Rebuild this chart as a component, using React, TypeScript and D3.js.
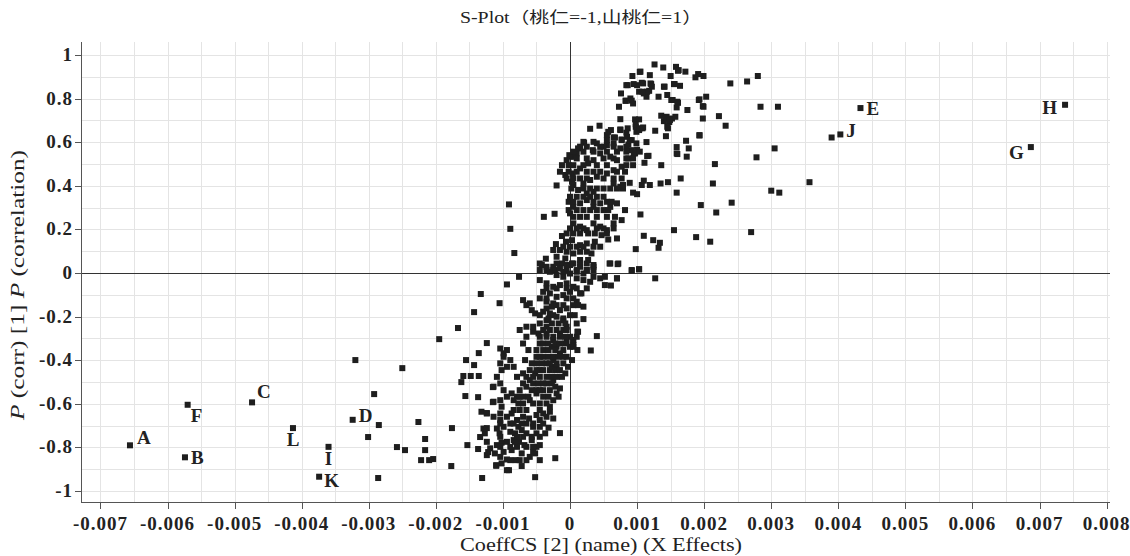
import * as d3 from "d3";

type Pt = [number, number];

// [CoeffCS[2], p(corr)[1]]
const upperArm: Pt[] = [
  [0.00126, 0.957], [0.00139, 0.943], [0.00158, 0.946], [0.00162, 0.931], [0.00172, 0.924],
  [0.00105, 0.924], [0.00093, 0.904], [0.00119, 0.908], [0.00191, 0.913], [0.00199, 0.904],
  [0.00187, 0.898], [0.00239, 0.87], [0.00264, 0.879], [0.0028, 0.904], [0.00086, 0.862],
  [0.00095, 0.867], [0.00109, 0.87], [0.00121, 0.867], [0.0014, 0.855], [0.00155, 0.867],
  [0.00164, 0.859], [0.00076, 0.824], [0.00103, 0.832], [0.0011, 0.824], [0.00118, 0.836],
  [0.00114, 0.809], [0.00145, 0.817], [0.00153, 0.794], [0.00161, 0.781], [0.00192, 0.794],
  [0.00203, 0.809], [0.00284, 0.763], [0.0031, 0.763], [0.00073, 0.763], [0.00083, 0.791],
  [0.00092, 0.791], [0.00094, 0.778], [0.00159, 0.76], [0.00175, 0.748], [0.00199, 0.763],
  [0.00198, 0.709], [0.00222, 0.72], [0.00232, 0.676], [0.00075, 0.706], [0.00097, 0.705],
  [0.00103, 0.705], [0.00136, 0.722], [0.00144, 0.717], [0.00152, 0.709], [0.00157, 0.717],
  [0.00148, 0.693], [0.00146, 0.664], [0.00143, 0.628], [0.00127, 0.653], [0.00108, 0.664],
  [0.00103, 0.656], [0.00099, 0.648], [0.00098, 0.671], [0.00086, 0.664], [0.00075, 0.659],
  [0.00061, 0.656], [0.00044, 0.676], [0.0003, 0.662], [0.00055, 0.633], [0.00065, 0.622],
  [0.00077, 0.61], [0.00085, 0.625], [0.00092, 0.61], [0.00099, 0.595], [0.00087, 0.59],
  [0.00095, 0.549], [0.001, 0.565], [0.00114, 0.601], [0.00117, 0.538], [0.00075, 0.572],
  [0.00055, 0.587], [0.0005, 0.58], [0.0004, 0.595], [0.00035, 0.602], [0.00021, 0.598],
  [0.0001, 0.549], [0.00001, 0.534], [0.00193, 0.631], [0.00173, 0.607], [0.00177, 0.572],
  [0.00174, 0.534], [0.00159, 0.578], [0.00159, 0.549], [0.00278, 0.531], [0.00305, 0.572],
  [0.00161, 0.928], [0.00104, 0.923], [0.0012, 0.87], [0.00107, 0.873], [0.001, 0.862],
  [0.00084, 0.862], [0.00122, 0.855], [0.00115, 0.832], [0.00108, 0.832], [0.00132, 0.809],
  [0.0009, 0.801], [0.00083, 0.79], [0.00141, 0.855], [0.0015, 0.904], [0.00156, 0.867],
  [0.00151, 0.794], [0.0016, 0.786], [0.00193, 0.797], [0.00198, 0.766], [0.00098, 0.683],
  [0.00104, 0.664], [0.00109, 0.668], [0.00143, 0.71], [0.00149, 0.702], [0.00145, 0.671],
  [0.0014, 0.697], [0.00193, 0.633], [0.0016, 0.546], [0.00057, 0.648], [0.00067, 0.622],
  [0.00075, 0.656], [0.00084, 0.644], [0.00089, 0.61], [0.00077, 0.613], [0.00065, 0.595],
  [0.00055, 0.61], [0.00045, 0.579], [0.00034, 0.564], [0.0002, 0.602], [0.00012, 0.572],
  [0.00005, 0.534], [-0.00001, 0.541], [0.00115, 0.537], [0.00092, 0.564], [0.00097, 0.549],
  [0.00087, 0.526], [0.0039, 0.622],
  [0.00015, 0.58], [0.00025, 0.58], [0.00065, 0.58], [0.00084, 0.58],
  [0.00005, 0.557], [0.0002, 0.557], [0.00035, 0.557], [0.00055, 0.557], [0.0007, 0.557], [0.00084, 0.557], [0.00104, 0.557],
  [0.0001, 0.526], [0.00025, 0.526], [0.0005, 0.526], [0.00065, 0.526], [0.00084, 0.526], [0.00094, 0.526],
];

const middleBand: Pt[] = [
  [-0.00005, 0.518], [-0.00012, 0.495], [-0.00015, 0.465], [-0.00007, 0.45], [0.00004, 0.457],
  [0.00015, 0.48], [0.00027, 0.503], [0.00035, 0.518], [0.00045, 0.549], [0.0006, 0.534],
  [0.0007, 0.518], [0.00077, 0.488], [0.00065, 0.472], [0.00055, 0.457], [0.0004, 0.442],
  [0.0003, 0.427], [0.0002, 0.411], [0.00005, 0.404], [0.00003, 0.419], [-0.0002, 0.402],
  [0.00012, 0.381], [0.00025, 0.365], [0.00035, 0.373], [0.0005, 0.388], [0.00065, 0.411],
  [0.00075, 0.396], [0.00079, 0.404], [0.00089, 0.414], [0.00094, 0.369], [0.001, 0.362],
  [0.00107, 0.404], [0.0011, 0.424], [0.00119, 0.404], [0.00135, 0.411], [0.00146, 0.417],
  [0.00159, 0.369], [0.00165, 0.434], [0.00136, 0.495], [0.00111, 0.506], [0.00216, 0.5],
  [0.00213, 0.411], [0.00195, 0.312], [0.00218, 0.278], [0.00241, 0.323], [0.003, 0.378],
  [0.00312, 0.369], [0.0027, 0.188], [0.00209, 0.144], [0.00188, 0.165], [0.00155, 0.197],
  [0.00134, 0.139], [0.00124, 0.151], [0.0011, 0.171], [0.00098, 0.11], [0.00132, 0.116],
  [0.00105, 0.269], [0.00082, 0.289], [0.0007, 0.32], [0.0006, 0.304], [0.00045, 0.32],
  [0.00035, 0.304], [0.00025, 0.335], [0.00015, 0.32], [0.00005, 0.304], [0.0, 0.274],
  [0.00005, 0.228], [0.00015, 0.213], [0.00025, 0.197], [0.00035, 0.228], [0.00045, 0.213],
  [0.00055, 0.197], [0.00065, 0.228], [0.00077, 0.243], [0.0007, 0.159], [0.00057, 0.154],
  [0.00047, 0.174], [0.00037, 0.144], [0.00025, 0.136], [0.00015, 0.128], [0.00003, 0.151],
  [-0.00006, 0.144], [-0.00012, 0.17], [-0.00021, 0.133], [-0.00015, 0.106], [-0.00025, 0.106],
  [-0.0002, 0.075], [-0.00007, 0.067], [0.00005, 0.09], [0.00015, 0.06], [0.00027, 0.06],
  [0.00032, 0.09], [0.00035, 0.029], [0.0002, -0.002], [0.0001, 0.014], [0.0, 0.037],
  [-0.00012, 0.044], [-0.00025, 0.029], [-0.00035, 0.014], [-0.00042, 0.037], [-0.00036, 0.066],
  [-0.00091, 0.315], [-0.00089, 0.203], [-0.00083, 0.092], [-0.00076, -0.017], [-0.00039, 0.258],
  [-0.00023, 0.272], [0.00059, 0.044], [0.00071, 0.041], [0.00092, 0.011], [0.00103, 0.017],
  [0.00127, -0.024], [0.0007, -0.024], [0.00357, 0.417],
  [-0.00002, 0.495], [0.00005, 0.495], [0.0002, 0.495], [0.0004, 0.495], [0.00055, 0.495], [0.00084, 0.495], [0.00094, 0.495],
  [-0.00002, 0.465], [0.0001, 0.465], [0.00025, 0.465], [0.00035, 0.465], [0.00045, 0.465], [0.0007, 0.465], [0.00082, 0.465],
  [-0.00005, 0.434], [0.00005, 0.434], [0.00015, 0.434], [0.00025, 0.434], [0.0005, 0.434], [0.00065, 0.434], [0.00077, 0.434],
  [0.00002, 0.388], [0.0002, 0.388], [0.0003, 0.388], [0.0004, 0.388], [0.0006, 0.388], [0.0007, 0.388], [0.00079, 0.388],
  [0.0, 0.35], [0.0001, 0.35], [0.0002, 0.35], [0.0003, 0.35], [0.0004, 0.35], [0.0005, 0.35],
  [-0.00002, 0.327], [0.00005, 0.327], [0.00035, 0.327], [0.00055, 0.327], [0.00062, 0.327],
  [-0.00002, 0.289], [0.0001, 0.289], [0.0002, 0.289], [0.0003, 0.289], [0.0004, 0.289], [0.0005, 0.289], [0.00057, 0.289],
  [0.00005, 0.258], [0.00015, 0.258], [0.00025, 0.258], [0.0004, 0.258], [0.00055, 0.258], [0.00067, 0.258],
  [0.0, 0.205], [0.0001, 0.205], [0.0002, 0.205], [0.0004, 0.205], [0.0005, 0.205], [0.00065, 0.205],
  [-0.00005, 0.182], [0.00005, 0.182], [0.00015, 0.182], [0.00027, 0.182], [0.00037, 0.182], [0.00055, 0.182],
  [-0.0001, 0.121], [0.0, 0.121], [0.0001, 0.121], [0.0002, 0.121], [0.00035, 0.121], [0.00045, 0.121],
  [-0.00005, 0.098], [0.00015, 0.098], [0.00025, 0.098],
  [-0.0002, 0.044], [0.00003, 0.044], [0.00015, 0.044], [0.00025, 0.044],
  [-0.00045, 0.014], [-0.00022, 0.014], [-0.00005, 0.014], [0.00025, 0.014], [0.00035, 0.014],
];

const lowerArm: Pt[] = [
  [-0.0011, -0.884], [-0.00102, -0.873], [-0.00094, -0.855], [-0.00091, -0.904], [-0.00081, -0.858],
  [-0.00072, -0.885], [-0.0006, -0.843], [-0.00052, -0.827], [-0.0005, -0.797], [-0.00057, -0.766],
  [-0.00068, -0.789], [-0.00076, -0.774], [-0.00084, -0.766], [-0.00094, -0.774], [-0.00102, -0.778],
  [-0.00109, -0.789], [-0.00105, -0.735], [-0.00109, -0.713], [-0.00099, -0.705], [-0.00089, -0.69],
  [-0.00077, -0.705], [-0.00065, -0.69], [-0.00055, -0.705], [-0.00045, -0.674], [-0.00037, -0.735],
  [-0.00032, -0.709], [-0.00025, -0.667], [-0.0003, -0.636], [-0.0004, -0.644], [-0.0005, -0.651],
  [-0.00061, -0.667], [-0.0007, -0.659], [-0.00079, -0.674], [-0.00087, -0.644], [-0.00094, -0.659],
  [-0.00104, -0.644], [-0.00102, -0.613], [-0.00114, -0.59], [-0.00104, -0.583], [-0.00094, -0.567],
  [-0.00084, -0.583], [-0.00077, -0.598], [-0.0007, -0.567], [-0.0006, -0.583], [-0.0005, -0.552],
  [-0.0004, -0.537], [-0.00035, -0.506], [-0.00025, -0.491], [-0.0002, -0.476], [-0.0003, -0.445],
  [-0.00035, -0.414], [-0.00025, -0.399], [-0.00015, -0.368], [-0.0002, -0.338], [-0.00025, -0.307],
  [-0.00015, -0.277], [-0.00005, -0.246], [-0.0001, -0.216], [-0.0002, -0.2], [-0.00035, -0.216],
  [-0.00045, -0.231], [-0.00055, -0.246], [-0.00065, -0.292], [-0.0007, -0.323], [-0.00062, -0.353],
  [-0.00067, -0.399], [-0.00057, -0.414], [-0.00052, -0.46], [-0.0006, -0.491], [-0.00065, -0.521],
  [-0.00075, -0.537], [-0.00079, -0.567], [-0.00087, -0.552], [-0.00099, -0.537], [-0.00104, -0.506],
  [-0.00114, -0.521], [-0.00109, -0.476], [-0.00102, -0.445], [-0.00094, -0.43], [-0.00104, -0.414],
  [-0.00099, -0.368], [-0.00089, -0.399], [-0.00094, -0.353], [-0.00104, -0.346], [-0.00099, -0.384],
  [-0.00084, -0.43], [-0.00079, -0.476], [-0.0007, -0.46], [-0.00045, -0.445], [-0.0004, -0.384],
  [-0.00045, -0.323], [-0.00047, -0.277], [-0.00035, -0.277], [-0.00027, -0.338], [-0.0004, -0.353],
  [-0.00032, -0.384], [-0.00027, -0.43], [-0.00022, -0.521], [-0.0002, -0.552], [-0.00025, -0.583],
  [-0.0003, -0.613], [-0.00035, -0.659], [-0.00045, -0.705], [-0.0005, -0.735], [-0.00057, -0.751],
  [-0.00065, -0.735], [-0.00072, -0.72], [-0.00082, -0.735], [-0.00089, -0.728], [-0.00079, -0.797],
  [-0.00087, -0.812], [-0.00099, -0.82], [-0.00104, -0.843], [-0.00112, -0.827], [-0.00119, -0.804],
  [-0.00124, -0.835], [-0.00094, -0.904], [-0.00082, -0.774], [-0.00072, -0.827], [-0.00065, -0.858],
  [-0.00055, -0.82], [-0.00045, -0.789], [-0.00124, -0.774], [-0.00127, -0.735], [-0.00129, -0.713],
  [-0.00132, -0.636], [-0.00124, -0.644], [-0.00114, -0.659], [-0.00104, -0.674], [-0.00017, -0.567],
  [-0.00015, -0.529], [-0.00005, -0.384], [0.0, -0.338], [0.00005, -0.307], [0.0001, -0.292],
  [0.00005, -0.33], [0.00012, -0.269], [0.0002, -0.211], [0.0004, -0.289], [0.00031, -0.355],
  [0.00011, -0.353], [0.00003, -0.399], [-0.00003, -0.43], [-0.0001, -0.414], [-0.00007, -0.46],
  [-0.00012, -0.476], [-0.0002, -0.43],
  [-0.00045, 0.044], [-0.00035, 0.029], [-0.00025, 0.014], [-0.00015, 0.021], [-0.00005, 0.037],
  [0.00005, 0.044], [0.00015, 0.029], [0.00025, 0.014], [0.00035, 0.037], [-0.0002, -0.009],
  [-0.0001, -0.017], [0.0, -0.002], [0.0001, -0.024], [0.0002, -0.032], [0.0003, -0.04],
  [0.00035, -0.017], [0.00045, -0.024], [0.00052, -0.017], [0.0006, 0.044], [0.00072, 0.044],
  [0.00052, -0.055], [0.0007, -0.024], [0.00061, -0.057], [0.00092, 0.014], [0.00103, 0.018],
  [-0.00045, -0.032], [-0.00035, -0.047], [-0.00025, -0.063], [-0.00015, -0.055], [-0.00005, -0.047],
  [0.00005, -0.063], [0.00017, -0.093], [-0.0004, -0.086], [-0.0003, -0.093], [-0.0002, -0.109],
  [-0.0001, -0.101], [0.0, -0.086], [0.0001, -0.131], [-0.00025, -0.139], [-0.00035, -0.162],
  [-0.0004, -0.177], [-0.0003, -0.185], [-0.00015, -0.17], [-0.00005, -0.162], [0.0, -0.193],
  [-0.0001, -0.208], [-0.00032, -0.208], [-0.0007, -0.124], [-0.00065, -0.147], [-0.00057, -0.17],
  [-0.00052, -0.185], [-0.0006, -0.139], [-0.00075, -0.261], [-0.00065, -0.246], [-0.00055, -0.269],
  [-0.00045, -0.292], [-0.00035, -0.246], [0.0001, -0.231], [0.00011, -0.269], [0.0, -0.292],
  [-0.00005, -0.315], [0.00005, -0.338], [0.0002, -0.154], [0.00015, -0.093], [-0.00035, -0.131],
  [-0.00027, -0.154],
  [-0.00027, -0.231], [-0.00017, -0.231], [-0.00007, -0.231],
  [-0.0004, -0.261], [-0.0003, -0.261], [-0.0002, -0.261], [-0.0001, -0.261], [-0.00005, -0.261],
  [-0.00035, -0.292], [-0.00025, -0.292], [-0.00015, -0.292], [-0.00007, -0.292],
  [-0.0004, -0.323], [-0.00032, -0.323], [-0.00022, -0.323], [-0.00015, -0.323], [-0.00007, -0.323],
  [-0.0005, -0.353], [-0.00032, -0.353], [-0.00022, -0.353], [-0.0001, -0.353],
  [-0.0005, -0.384], [-0.00045, -0.384], [-0.00025, -0.384], [-0.00017, -0.384], [-0.0001, -0.384],
  [-0.0005, -0.414], [-0.00042, -0.414], [-0.0003, -0.414], [-0.0002, -0.414],
  [-0.0006, -0.445], [-0.0005, -0.445], [-0.0004, -0.445], [-0.00022, -0.445], [-0.00015, -0.445],
  [-0.00065, -0.476], [-0.00055, -0.476], [-0.00045, -0.476], [-0.00035, -0.476], [-0.00027, -0.476],
  [-0.0007, -0.506], [-0.00055, -0.506], [-0.00047, -0.506], [-0.0004, -0.506], [-0.00027, -0.506],
  [-0.00057, -0.537], [-0.0005, -0.537], [-0.00045, -0.537], [-0.0003, -0.537],
  [-0.00075, -0.567], [-0.00062, -0.567], [-0.0004, -0.567], [-0.00032, -0.567],
  [-0.0007, -0.598], [-0.00055, -0.598], [-0.00045, -0.598], [-0.00035, -0.598],
  [-0.00084, -0.628], [-0.00075, -0.628], [-0.00065, -0.628], [-0.00045, -0.628],
  [-0.00104, -0.69], [-0.00084, -0.69], [-0.00072, -0.69], [-0.00055, -0.69], [-0.0004, -0.69],
  [-0.00104, -0.751], [-0.00079, -0.751], [-0.0007, -0.751], [-0.00045, -0.751],
  [-0.00104, -0.797], [-0.00089, -0.797], [-0.00065, -0.797], [-0.00055, -0.797],
  [-0.00089, -0.858], [-0.00075, -0.858], [-0.00045, -0.858],
  [-0.0003, 0.006], [-0.0001, 0.006], [0.0001, 0.006],
  [-0.00035, -0.07], [-0.0002, -0.07], [-0.00005, -0.07], [0.0001, -0.07], [0.00025, -0.07],
  [-0.00045, -0.116], [-0.00035, -0.116], [-0.00005, -0.116], [0.00005, -0.116],
  [-0.0002, -0.147], [-0.0001, -0.147], [0.00005, -0.147], [0.00012, -0.147],
  [-0.00045, -0.193], [-0.00025, -0.193], [0.00007, -0.193],
];

const leftTail: Pt[] = [
  [-0.00094, -0.052], [-0.00105, -0.138], [-0.00133, -0.096], [-0.00143, -0.179], [-0.00167, -0.252],
  [-0.00195, -0.303], [-0.00124, -0.321], [-0.0032, -0.399], [-0.00155, -0.399], [-0.00136, -0.367],
  [-0.00143, -0.422], [-0.0025, -0.436], [-0.00159, -0.472], [-0.00148, -0.472], [-0.00136, -0.472],
  [-0.00162, -0.5], [-0.00292, -0.555], [-0.00156, -0.564], [-0.00137, -0.569], [-0.00115, -0.523],
  [-0.00115, -0.592], [-0.00285, -0.697], [-0.00226, -0.683], [-0.00176, -0.711], [-0.00124, -0.642],
  [-0.00124, -0.711], [-0.00301, -0.752], [-0.00216, -0.761], [-0.00134, -0.752], [-0.00258, -0.798],
  [-0.00246, -0.812], [-0.00216, -0.812], [-0.00153, -0.789], [-0.00137, -0.807], [-0.00122, -0.821],
  [-0.00222, -0.858], [-0.0021, -0.858], [-0.00204, -0.853], [-0.00177, -0.885], [-0.00286, -0.94],
  [-0.00131, -0.94], [-0.0011, -0.881], [-0.00052, -0.936], [-0.00022, -0.849], [-0.00015, -0.734],
];

const labelNames = ["A", "B", "C", "D", "E", "F", "G", "H", "I", "J", "K", "L"];
const labelCoeff = [-0.00656, -0.00574, -0.00474, -0.00324, 0.00433, -0.0057, 0.00687, 0.00738, -0.0036, 0.00403, -0.00374, -0.00413];
const labelCorr = [-0.79, -0.845, -0.593, -0.673, 0.757, -0.604, 0.578, 0.772, -0.797, 0.636, -0.934, -0.711];

const xTicks = [-0.007, -0.006, -0.005, -0.004, -0.003, -0.002, -0.001, 0, 0.001, 0.002, 0.003, 0.004, 0.005, 0.006, 0.007, 0.008];
const yTicks = [-1, -0.8, -0.6, -0.4, -0.2, 0, 0.2, 0.4, 0.6, 0.8, 1];

const W = 1130;
const H = 556;
const left = 81;
const right = 1110;
const top = 42;
const bottom = 502;

// where each letter sits next to its point (px)
const labelPos: Record<string, [number, number, string]> = {
  A: [7, -1, "start"],
  B: [6, 7, "start"],
  C: [5, -4, "start"],
  D: [6, 2, "start"],
  E: [6, 7, "start"],
  F: [3, 17, "start"],
  G: [-7, 12, "end"],
  H: [-8, 9, "end"],
  I: [0, 18, "middle"],
  J: [6, 3, "start"],
  K: [5, 10, "start"],
  L: [0, 18, "middle"],
};

const font = "'Liberation Serif', 'Noto Sans CJK SC', serif";

export default function App() {
  const x = d3.scaleLinear().domain([-0.00729, 0.00805]).range([left, right]);
  const y = d3.scaleLinear().domain([-1.05, 1.06]).range([bottom, top]);

  const gridX = d3.range(-14, 17).map((i) => i * 0.0005);
  const gridY = d3.range(-10, 11).map((i) => i * 0.1);

  const points = [...upperArm, ...middleBand, ...lowerArm, ...leftTail];
  const labeled = labelNames.map((name, i) => ({ name, coeff: labelCoeff[i], corr: labelCorr[i] }));
  const sz = 6;

  return (
    <svg
      width={W}
      height={H}
      style={{ position: "absolute", left: 0, top: 0, background: "#fff" }}
      fontFamily={font}
    >
      <g stroke="#e4e4e4" strokeWidth={1}>
        {gridX.map((v) => (
          <line key={"gx" + v} x1={Math.round(x(v)) + 0.5} x2={Math.round(x(v)) + 0.5} y1={top} y2={bottom} />
        ))}
        {gridY.map((v) => (
          <line key={"gy" + v} x1={left} x2={right} y1={Math.round(y(v)) + 0.5} y2={Math.round(y(v)) + 0.5} />
        ))}
      </g>

      <line x1={Math.round(x(0)) + 0.5} x2={Math.round(x(0)) + 0.5} y1={top} y2={bottom} stroke="#333" />
      <line x1={left} x2={right} y1={Math.round(y(0)) + 0.5} y2={Math.round(y(0)) + 0.5} stroke="#333" />

      <line x1={left + 0.5} x2={left + 0.5} y1={top} y2={bottom} stroke="#555" />
      <line x1={left} x2={right} y1={bottom + 0.5} y2={bottom + 0.5} stroke="#555" />

      <g stroke="#555">
        {yTicks.map((t) => (
          <line key={"yt" + t} x1={left - 6} x2={left} y1={Math.round(y(t)) + 0.5} y2={Math.round(y(t)) + 0.5} />
        ))}
        {xTicks.map((t) => (
          <line key={"xt" + t} x1={Math.round(x(t)) + 0.5} x2={Math.round(x(t)) + 0.5} y1={bottom} y2={bottom + 7} />
        ))}
      </g>

      <g fontSize={19} fontWeight="bold" fill="#222" letterSpacing={1}>
        {yTicks.map((t) => (
          <text key={"yl" + t} x={left - 8} y={y(t) + 6} textAnchor="end">
            {String(t)}
          </text>
        ))}
        {xTicks.map((t) => (
          <text key={"xl" + t} x={x(t)} y={530} textAnchor="middle">
            {String(t)}
          </text>
        ))}
      </g>

      <g fill="#1e1e1e">
        {points.map(([c, r], i) => (
          <rect key={i} x={x(c) - sz / 2} y={y(r) - sz / 2} width={sz} height={sz} />
        ))}
        {labeled.map((d) => (
          <rect key={"lp" + d.name} x={x(d.coeff) - sz / 2} y={y(d.corr) - sz / 2} width={sz} height={sz} />
        ))}
      </g>

      <g fontSize={19} fontWeight="bold" fill="#222">
        {labeled.map((d) => {
          const [dx, dy, anchor] = labelPos[d.name];
          return (
            <text key={"lb" + d.name} x={x(d.coeff) + dx} y={y(d.corr) + dy} textAnchor={anchor}>
              {d.name}
            </text>
          );
        })}
      </g>

      <text x={581} y={23} textAnchor="middle" fontSize={16} fill="#222" textLength={242} lengthAdjust="spacingAndGlyphs">
        S-Plot（桃仁=-1,山桃仁=1）
      </text>

      <text x={601} y={551} textAnchor="middle" fontSize={18} fill="#222" textLength={282} lengthAdjust="spacingAndGlyphs">
        CoeffCS [2] (name) (X Effects)
      </text>

      <text
        transform="translate(24,285) rotate(-90)"
        textAnchor="middle"
        fontSize={18}
        fill="#222"
        textLength={270}
        lengthAdjust="spacingAndGlyphs"
      >
        <tspan fontStyle="italic">P</tspan> (corr) [1] <tspan fontStyle="italic">P</tspan> (correlation)
      </text>
    </svg>
  );
}
